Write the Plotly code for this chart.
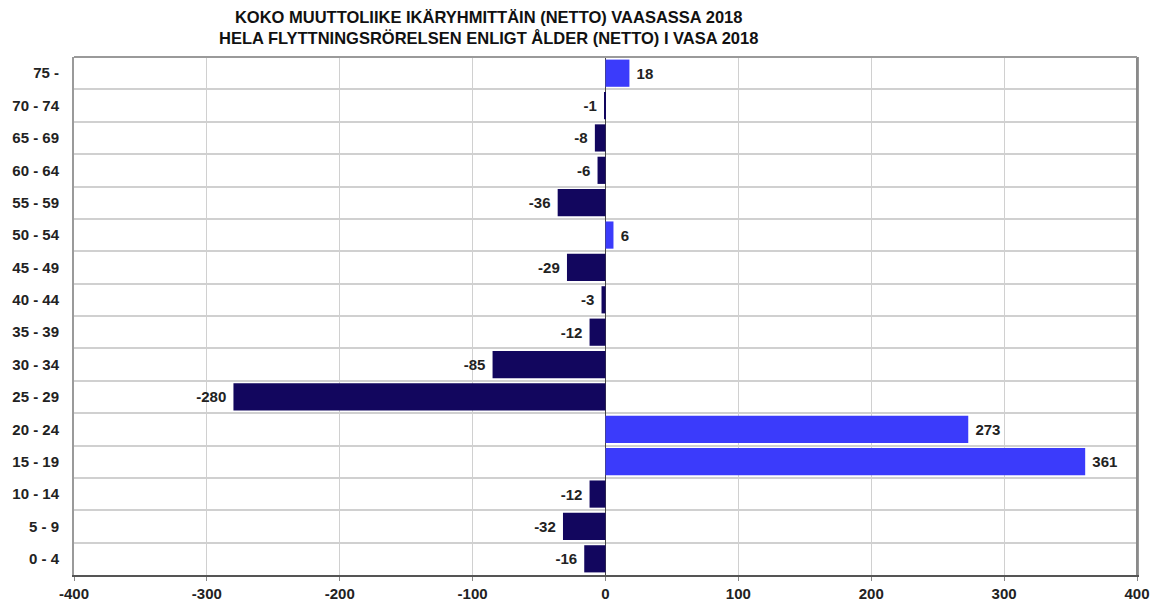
import plotly.graph_objects as go

categories = ["0 - 4", "5 - 9", "10 - 14", "15 - 19", "20 - 24", "25 - 29", "30 - 34", "35 - 39",
              "40 - 44", "45 - 49", "50 - 54", "55 - 59", "60 - 64", "65 - 69", "70 - 74", "75 -"]
values = [-16, -32, -12, 361, 273, -280, -85, -12, -3, -29, 6, -36, -6, -8, -1, 18]
x_ticks = [-400, -300, -200, -100, 0, 100, 200, 300, 400]

NEG = "#12065e"
POS = "#3b3bfb"
colors = [POS if v > 0 else NEG for v in values]
ypos = list(range(len(categories)))

# page body has an 8px margin: size the figure to fill the rest of the window
W, H = 1151, 599
ml, mr, mt, mb = 66, 22, 49, 32
NB = "\u00a0"
labels = [f"<b>{NB}{v}</b>" if v > 0 else f"<b>{v}{NB}</b>" for v in values]

fig = go.Figure(go.Bar(
    x=values, y=ypos, orientation="h",
    marker=dict(color=colors, line=dict(width=0)),
    width=0.84,
    text=labels, textposition="outside",
    textfont=dict(family="Liberation Sans, Arial", size=15, color="#222222"),
    cliponaxis=False,
))

fig.update_layout(
    width=W, height=H,
    margin=dict(l=ml, r=mr, t=mt, b=mb, autoexpand=False),
    plot_bgcolor="white", paper_bgcolor="white",
    showlegend=False,
    font=dict(family="Liberation Sans, Arial", size=15, color="#222222"),
    annotations=[dict(
        text="<b>KOKO MUUTTOLIIKE IKÄRYHMITTÄIN (NETTO) VAASASSA 2018<br>HELA FLYTTNINGSRÖRELSEN ENLIGT ÅLDER (NETTO) I VASA 2018</b>",
        xref="paper", yref="paper", x=(480 - ml) / (W - ml - mr), y=1.0,
        xanchor="center", yanchor="bottom", yshift=8, showarrow=False,
        font=dict(size=16.5, color="#111111"), align="center")],
    xaxis=dict(range=[-400, 400], tickvals=x_ticks, ticktext=[f"<b>{t}</b>" for t in x_ticks],
               automargin=False,
               showgrid=True, gridcolor="#d0d0d0", gridwidth=1, zeroline=True, zerolinecolor="#444444",
               zerolinewidth=1, showline=True, linecolor="#555555", linewidth=2, mirror=False,
               ticks="outside", ticklen=4, tickcolor="#888888"),
    yaxis=dict(range=[-0.5, 15.5], tickvals=ypos, ticktext=[f"<b>{c}</b>" for c in categories],
               automargin=False,
               showgrid=False, zeroline=False, showline=True, linecolor="#9a9a9a", linewidth=2,
               mirror=True, ticks="", ticklabelstandoff=10,
               minor=dict(tick0=0.5, dtick=1, showgrid=True, gridcolor="#d0d0d0", gridwidth=1.5)),
)
fig.add_shape(type="line", xref="paper", yref="paper", x0=1, x1=1, y0=0, y1=1,
              line=dict(color="#8a8a8a", width=2))
fig.add_shape(type="line", xref="paper", yref="paper", x0=0, x1=1, y0=1, y1=1,
              line=dict(color="#9a9a9a", width=2))

fig.write_html("out.html")
